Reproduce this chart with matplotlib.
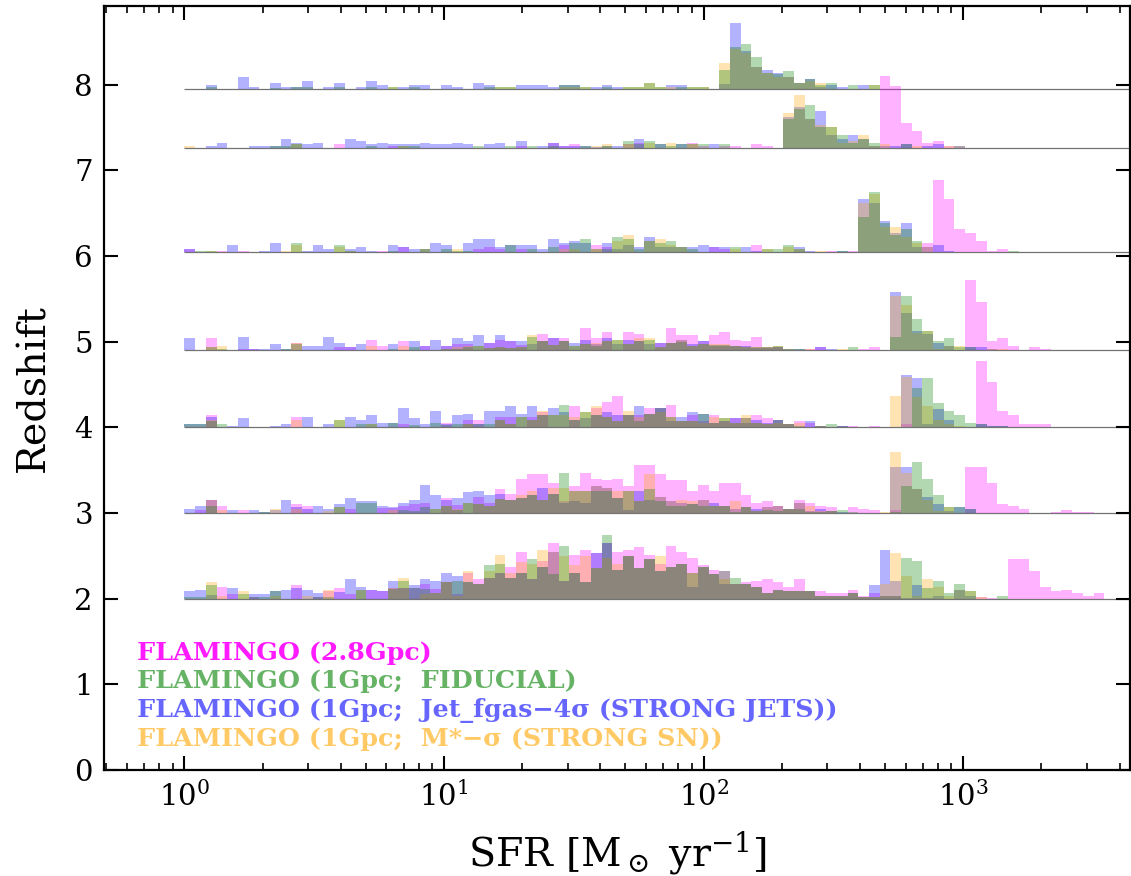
import numpy as np
import matplotlib
matplotlib.use("Agg")
import matplotlib.pyplot as plt
from matplotlib.patches import Patch

# ---------------- data ----------------
# ridge redshifts (bottom to top)
REDSHIFTS = [2.0, 3.0, 4.0, 4.9, 6.05, 7.26, 7.95]
# log-spaced SFR bins (dex width) starting at 1 Msun/yr
BIN_DEX = 0.0412
N_BINS = 90
LABELS = ["FLAMINGO (2.8Gpc)",
          "FLAMINGO (1Gpc;  FIDUCIAL)",
          "FLAMINGO (1Gpc;  Jet_fgas\u22124\u03c3 (STRONG JETS))",
          "FLAMINGO (1Gpc;  M*\u2212\u03c3 (STRONG SN))"]

# relative bin heights per ridge: {bin index: value}
z795_pink = {}
z795_green = {2: 2, 8: 1, 10: 2, 11: 2, 14: 2, 17: 2, 19: 2, 21: 2, 28: 2, 29: 2, 30: 2, 35: 4, 36: 4, 37: 2,
              39: 2, 41: 2, 42: 2, 43: 6, 44: 2, 46: 2, 47: 2, 48: 2, 50: 19, 51: 42, 52: 45, 53: 32, 54: 16,
              55: 15, 56: 18, 57: 6, 58: 10, 59: 4, 60: 6, 62: 4, 64: 4}
z795_blue = {2: 4, 5: 12, 6: 2, 8: 6, 9: 2, 10: 2, 11: 8, 13: 2, 14: 6, 16: 2, 17: 8, 18: 4, 20: 2, 21: 4, 22: 4,
             24: 4, 25: 2, 27: 6, 28: 4, 31: 4, 32: 4, 33: 4, 34: 2, 35: 4, 36: 4, 38: 2, 39: 4, 40: 2, 45: 4,
             46: 4, 50: 5, 51: 66, 52: 38, 53: 22, 54: 19, 55: 16, 56: 12, 57: 6, 58: 10, 59: 2, 60: 4, 61: 2, 63: 4}
z795_orange = {19: 2, 29: 2, 30: 2, 35: 2, 36: 2, 37: 2, 41: 2, 42: 2, 43: 6, 44: 2, 45: 2, 47: 2, 48: 2,
               50: 26, 51: 40, 52: 36, 53: 22, 54: 16, 55: 12, 56: 12, 57: 6, 58: 8, 59: 6, 64: 4}

z726_pink = {14: 4, 19: 2, 31: 2, 34: 5, 35: 2, 36: 4, 41: 4, 42: 5, 47: 5, 48: 2, 50: 2, 51: 2, 53: 4, 54: 2,
             65: 72, 66: 62, 67: 25, 68: 17, 69: 5, 70: 7, 71: 2, 72: 2}
z726_green = {8: 2, 9: 2, 10: 4, 17: 2, 20: 2, 21: 2, 27: 2, 30: 2, 32: 2, 34: 2, 37: 2, 39: 2, 41: 7, 42: 4,
              43: 7, 44: 4, 45: 2, 46: 4, 47: 4, 48: 4, 50: 4, 56: 29, 57: 39, 58: 43, 59: 21, 60: 21, 61: 13,
              62: 5, 63: 9, 64: 5, 67: 4, 72: 2}
z726_blue = {2: 2, 3: 5, 6: 2, 7: 2, 8: 2, 9: 9, 10: 5, 11: 4, 12: 5, 15: 9, 16: 7, 17: 4, 18: 5, 19: 4, 20: 4,
             21: 4, 22: 5, 23: 4, 24: 4, 25: 5, 26: 4, 28: 4, 29: 5, 31: 7, 33: 2, 34: 5, 35: 2, 36: 2, 37: 2,
             38: 1, 39: 2, 40: 2, 42: 9, 44: 4, 46: 4, 49: 4, 56: 31, 57: 41, 58: 29, 59: 37, 60: 13, 61: 9,
             62: 13, 63: 9, 64: 2, 65: 2, 66: 2, 67: 4, 69: 2, 70: 4}
z726_orange = {0: 2, 10: 4, 20: 2, 38: 2, 39: 4, 41: 4, 43: 5, 45: 5, 47: 4, 56: 35, 57: 53, 58: 29, 59: 23,
               60: 21, 61: 5, 62: 7, 63: 13, 64: 2, 65: 4, 68: 2, 71: 2}

z605_pink = {0: 3, 3: 1, 5: 1, 18: 1, 20: 5, 27: 3, 28: 5, 29: 3, 31: 3, 35: 7, 38: 7, 39: 5, 49: 5, 50: 3,
             53: 7, 60: 1, 62: 1, 69: 9, 70: 72, 71: 53, 72: 23, 73: 19, 74: 11, 75: 1, 76: 3}
z605_green = {1: 1, 2: 1, 10: 9, 14: 7, 15: 1, 19: 1, 22: 3, 24: 3, 25: 1, 26: 1, 30: 7, 32: 3, 34: 5, 36: 9,
              37: 13, 38: 3, 39: 3, 40: 15, 41: 13, 42: 3, 43: 11, 44: 9, 45: 11, 46: 5, 47: 3, 51: 5, 54: 3,
              55: 3, 56: 7, 57: 3, 61: 1, 63: 35, 64: 60, 65: 29, 66: 17, 67: 23, 68: 11, 77: 1}
z605_blue = {0: 3, 4: 7, 7: 1, 8: 9, 11: 1, 12: 7, 13: 3, 15: 3, 16: 5, 17: 1, 19: 7, 20: 5, 21: 3, 22: 3,
             23: 9, 24: 7, 26: 9, 27: 13, 28: 13, 29: 5, 30: 7, 31: 7, 32: 7, 33: 3, 34: 13, 35: 9, 36: 11,
             37: 9, 39: 9, 40: 3, 41: 7, 42: 5, 43: 15, 44: 5, 45: 5, 46: 5, 47: 5, 48: 7, 49: 5, 50: 5, 52: 5,
             53: 1, 57: 5, 58: 1, 61: 1, 63: 53, 64: 49, 65: 31, 66: 19, 67: 29, 68: 5, 69: 5, 70: 7, 71: 1}
z605_orange = {2: 1, 9: 1, 10: 7, 14: 5, 15: 1, 22: 3, 25: 3, 35: 3, 36: 3, 38: 3, 40: 11, 41: 17, 43: 11,
               44: 13, 45: 7, 46: 5, 51: 3, 54: 3, 56: 5, 57: 3, 59: 1, 63: 49, 64: 58, 65: 25, 66: 25, 67: 15,
               68: 9, 69: 5}

z49_pink = {2: 12, 5: 1, 6: 1, 10: 7, 14: 3, 15: 3, 17: 10, 18: 4, 20: 9, 22: 4, 24: 4, 25: 6, 26: 6, 28: 7,
            29: 10, 30: 9, 31: 5, 33: 16, 34: 12, 35: 12, 37: 22, 38: 12, 39: 18, 41: 18, 42: 16, 44: 7,
            45: 22, 46: 15, 47: 15, 48: 9, 49: 15, 50: 18, 51: 10, 52: 9, 53: 13, 54: 3, 55: 3, 58: 1, 59: 3,
            63: 1, 64: 3, 73: 70, 74: 48, 75: 9, 76: 12, 77: 4, 79: 3, 80: 1}
z49_green = {2: 3, 3: 1, 9: 1, 10: 6, 19: 1, 21: 3, 24: 1, 25: 1, 26: 3, 27: 4, 28: 2, 29: 3, 30: 2, 31: 3,
             32: 13, 33: 9, 34: 5, 35: 9, 36: 4, 37: 6, 38: 4, 39: 9, 40: 10, 41: 6, 42: 9, 43: 10, 44: 3,
             45: 7, 46: 8, 47: 4, 48: 6, 49: 5, 50: 5, 51: 4, 52: 3, 53: 3, 54: 3, 55: 4, 56: 1, 57: 1, 62: 3,
             66: 13, 67: 54, 68: 31, 69: 19, 70: 9, 71: 12, 72: 3, 73: 3}
z49_blue = {0: 12, 5: 13, 6: 1, 7: 1, 8: 6, 9: 1, 11: 4, 12: 4, 13: 13, 14: 7, 15: 3, 16: 6, 19: 6, 21: 9,
            22: 4, 23: 10, 24: 4, 25: 12, 26: 9, 27: 15, 28: 7, 29: 15, 30: 9, 31: 9, 32: 6, 33: 9, 34: 12,
            35: 9, 36: 7, 37: 10, 38: 6, 39: 12, 40: 6, 41: 10, 42: 9, 43: 6, 44: 7, 45: 7, 46: 10, 47: 6,
            48: 9, 49: 4, 50: 4, 51: 4, 52: 4, 53: 2, 54: 2, 55: 3, 56: 1, 57: 1, 59: 3, 60: 1, 66: 58, 67: 37,
            68: 19, 69: 16, 70: 7, 71: 4, 73: 3, 74: 3, 75: 1}
z49_orange = {2: 3, 3: 4, 10: 7, 17: 4, 20: 4, 24: 1, 25: 3, 26: 4, 27: 4, 28: 2, 29: 3, 30: 2, 31: 3, 32: 15,
              33: 9, 34: 5, 35: 9, 36: 4, 37: 6, 38: 7, 39: 9, 40: 10, 41: 6, 42: 12, 43: 12, 44: 3, 45: 7,
              46: 10, 47: 4, 48: 6, 49: 6, 50: 6, 51: 4, 52: 3, 53: 3, 54: 3, 55: 4, 56: 1, 58: 1, 61: 1,
              66: 54, 67: 45, 68: 17, 69: 19, 70: 1, 71: 4, 72: 4, 75: 1, 76: 1}

z4_pink = {2: 12, 10: 10, 20: 3, 24: 4, 26: 7, 27: 7, 29: 10, 30: 10, 32: 10, 33: 15, 36: 21, 38: 19, 39: 25,
           40: 31, 41: 12, 42: 12, 43: 19, 44: 19, 45: 22, 46: 6, 47: 12, 48: 6, 49: 12, 50: 6, 51: 9, 52: 9,
           53: 12, 54: 9, 55: 7, 56: 3, 57: 6, 58: 4, 59: 1, 61: 1, 62: 1, 64: 1, 67: 3, 74: 66, 75: 45,
           76: 16, 77: 12, 78: 3, 79: 3, 80: 3}
z4_green = {0: 3, 1: 3, 2: 6, 3: 3, 14: 7, 16: 3, 17: 3, 19: 4, 21: 2, 23: 4, 24: 2, 25: 3, 26: 3, 27: 3,
            28: 3, 29: 7, 30: 3, 31: 10, 32: 7, 33: 12, 34: 12, 35: 22, 36: 7, 37: 15, 38: 12, 39: 10, 40: 6,
            41: 12, 42: 6, 43: 13, 44: 19, 45: 10, 46: 6, 47: 6, 48: 13, 49: 4, 50: 9, 51: 4, 52: 9, 53: 4,
            54: 3, 55: 7, 56: 3, 57: 1, 59: 1, 60: 3, 61: 1, 68: 39, 69: 49, 70: 24, 71: 16, 72: 12, 73: 4,
            74: 3, 75: 1, 76: 1}
z4_blue = {0: 3, 1: 3, 2: 10, 4: 1, 5: 9, 8: 1, 9: 3, 11: 10, 13: 3, 15: 10, 16: 7, 17: 12, 18: 4, 19: 4,
           20: 19, 21: 9, 22: 3, 23: 16, 24: 3, 25: 12, 26: 13, 27: 3, 28: 16, 29: 16, 30: 21, 31: 13, 32: 21,
           33: 12, 34: 19, 35: 15, 36: 7, 37: 9, 38: 12, 39: 15, 40: 12, 41: 12, 42: 21, 43: 13, 44: 19,
           45: 6, 46: 10, 47: 15, 48: 13, 49: 4, 50: 6, 51: 9, 52: 4, 53: 7, 54: 4, 55: 7, 56: 3, 58: 6,
           59: 1, 61: 1, 67: 52, 68: 49, 69: 3, 70: 18, 71: 7, 74: 3, 75: 1, 76: 1}
z4_orange = {2: 7, 10: 7, 14: 7, 17: 3, 26: 3, 29: 7, 30: 3, 31: 10, 32: 7, 33: 16, 34: 12, 35: 12, 36: 10,
             37: 15, 38: 21, 39: 10, 40: 6, 41: 16, 42: 10, 43: 13, 44: 15, 45: 10, 46: 6, 47: 6, 48: 4,
             49: 10, 50: 9, 51: 4, 52: 12, 53: 4, 54: 3, 55: 4, 56: 3, 57: 4, 59: 1, 66: 31, 67: 50, 68: 30,
             69: 21, 70: 7, 71: 3, 72: 1}

z3_pink = {1: 3, 2: 13, 3: 7, 5: 3, 10: 9, 11: 7, 15: 4, 18: 5, 19: 5, 20: 7, 21: 9, 22: 10, 24: 15, 25: 8,
           27: 16, 28: 10, 29: 24, 30: 19, 31: 34, 32: 39, 33: 39, 34: 30, 35: 12, 36: 27, 37: 40, 38: 34,
           39: 33, 40: 34, 41: 27, 42: 48, 43: 48, 44: 39, 45: 33, 46: 33, 47: 22, 48: 28, 49: 22, 50: 30,
           51: 30, 52: 18, 53: 10, 54: 12, 55: 7, 56: 4, 57: 13, 58: 10, 59: 7, 60: 6, 62: 6, 63: 4, 64: 3,
           66: 3, 73: 46, 74: 46, 75: 30, 76: 9, 77: 7, 78: 4, 81: 1, 82: 3, 83: 1, 84: 1}
z3_green = {2: 7, 7: 1, 14: 6, 16: 10, 17: 10, 20: 3, 21: 2, 22: 6, 23: 4, 24: 7, 25: 3, 26: 10, 27: 9,
            28: 7, 29: 14, 30: 13, 31: 15, 32: 18, 33: 13, 34: 19, 35: 40, 36: 22, 37: 22, 38: 22, 39: 22,
            40: 15, 41: 22, 42: 12, 43: 24, 44: 12, 45: 7, 46: 7, 47: 9, 48: 7, 49: 7, 50: 7, 51: 1, 52: 6,
            53: 2, 54: 3, 55: 2, 56: 4, 57: 4, 58: 1, 59: 1, 60: 2, 61: 3, 62: 1, 66: 1, 67: 27, 68: 51,
            69: 34, 70: 18, 71: 6, 72: 6, 73: 4}
z3_blue = {0: 4, 1: 7, 2: 13, 4: 3, 6: 3, 7: 1, 8: 3, 9: 13, 10: 6, 11: 4, 12: 7, 13: 4, 14: 9, 15: 15,
           16: 12, 17: 12, 18: 7, 19: 6, 20: 10, 21: 13, 22: 28, 23: 18, 24: 13, 25: 15, 26: 21, 27: 22,
           28: 18, 29: 19, 30: 13, 31: 15, 32: 18, 33: 25, 34: 19, 35: 10, 36: 12, 37: 10, 38: 27, 39: 25,
           40: 15, 41: 3, 42: 22, 43: 13, 44: 16, 45: 12, 46: 10, 47: 9, 48: 13, 49: 10, 50: 7, 51: 4, 52: 6,
           53: 4, 54: 6, 55: 7, 56: 4, 57: 10, 58: 2, 59: 4, 60: 2, 61: 1, 66: 46, 67: 46, 68: 24, 69: 16,
           70: 9, 71: 2, 72: 6, 73: 4}
z3_orange = {2: 13, 3: 3, 8: 4, 10: 4, 13: 2, 14: 6, 19: 3, 23: 4, 24: 7, 25: 4, 26: 10, 27: 9, 28: 7,
             29: 14, 30: 13, 31: 18, 32: 22, 33: 13, 34: 25, 35: 25, 36: 22, 37: 22, 38: 27, 39: 25, 40: 22,
             41: 22, 42: 12, 43: 39, 44: 16, 45: 12, 46: 13, 47: 12, 48: 13, 49: 7, 50: 7, 51: 12, 52: 6,
             53: 2, 54: 6, 55: 7, 56: 4, 57: 10, 58: 7, 59: 2, 60: 2, 65: 1, 66: 61, 67: 40, 68: 24, 69: 13,
             70: 2, 71: 6}

z2_pink = {3: 12, 4: 5, 6: 2, 10: 14, 12: 2, 13: 8, 14: 11, 15: 5, 17: 9, 18: 8, 19: 11, 20: 11, 21: 11,
           22: 15, 23: 10, 24: 17, 25: 5, 26: 26, 27: 20, 28: 21, 29: 26, 30: 32, 31: 47, 32: 20, 33: 38,
           34: 56, 35: 18, 36: 44, 37: 49, 38: 46, 39: 56, 40: 47, 41: 49, 42: 52, 43: 44, 44: 35, 45: 53,
           46: 47, 47: 41, 48: 34, 49: 29, 50: 28, 51: 15, 52: 17, 53: 18, 54: 20, 55: 17, 56: 12, 57: 20,
           58: 8, 59: 8, 60: 6, 61: 6, 62: 9, 63: 3, 64: 6, 65: 3, 66: 3, 74: 2, 75: 1, 77: 40, 78: 40,
           79: 28, 80: 12, 81: 8, 82: 9, 83: 6, 84: 3, 85: 6}
z2_green = {0: 2, 1: 2, 2: 14, 5: 5, 6: 2, 7: 2, 8: 8, 12: 2, 13: 2, 16: 9, 19: 10, 20: 18, 21: 11, 22: 10,
            23: 6, 24: 17, 25: 18, 26: 17, 27: 15, 28: 34, 29: 35, 30: 21, 31: 26, 32: 40, 33: 32, 34: 25,
            35: 53, 36: 26, 37: 17, 38: 31, 39: 64, 40: 29, 41: 43, 42: 31, 43: 40, 44: 28, 45: 32, 46: 35,
            47: 26, 48: 32, 49: 25, 50: 28, 51: 21, 52: 15, 53: 12, 54: 6, 55: 9, 56: 8, 57: 8, 58: 8, 59: 3,
            60: 3, 61: 3, 62: 6, 63: 2, 64: 2, 65: 3, 66: 3, 67: 41, 68: 38, 69: 11, 70: 18, 71: 6, 72: 15,
            73: 8, 76: 3}
z2_blue = {0: 8, 1: 9, 2: 4, 4: 11, 6: 5, 7: 5, 8: 8, 9: 9, 10: 11, 11: 9, 12: 6, 14: 7, 15: 20, 16: 12,
           17: 9, 18: 8, 19: 18, 20: 11, 21: 14, 22: 20, 23: 18, 24: 26, 25: 23, 26: 17, 27: 15, 28: 21,
           29: 26, 30: 21, 31: 26, 32: 20, 33: 32, 34: 47, 35: 18, 36: 26, 37: 17, 38: 46, 39: 56, 40: 29,
           41: 43, 42: 31, 43: 40, 44: 28, 45: 32, 46: 35, 47: 12, 48: 32, 49: 25, 50: 15, 51: 15, 52: 15,
           53: 12, 54: 6, 55: 9, 56: 8, 57: 8, 58: 8, 59: 3, 60: 3, 61: 3, 62: 6, 63: 2, 64: 14, 65: 49,
           66: 18, 67: 1, 68: 14, 69: 1, 70: 3, 72: 9, 73: 3}
z2_orange = {2: 17, 3: 3, 5: 8, 8: 3, 11: 3, 13: 9, 16: 9, 19: 11, 20: 21, 22: 5, 23: 6, 24: 17, 25: 3,
             26: 28, 27: 15, 28: 28, 29: 44, 30: 26, 31: 37, 32: 35, 33: 49, 34: 47, 35: 43, 36: 34, 37: 43,
             38: 31, 39: 41, 40: 35, 41: 43, 42: 31, 43: 40, 44: 43, 45: 32, 46: 35, 47: 26, 48: 32, 49: 25,
             50: 20, 51: 15, 52: 15, 53: 12, 54: 6, 55: 9, 56: 8, 57: 8, 58: 8, 59: 3, 60: 3, 61: 3, 62: 6,
             63: 2, 64: 2, 65: 15, 66: 46, 67: 23, 68: 3, 69: 20, 70: 12, 71: 3, 72: 9, 73: 8, 74: 2}

# series order per ridge: pink (2.8Gpc), green (fiducial), blue (strong jets), orange (strong SN)
RIDGES = [
    [z2_pink, z2_green, z2_blue, z2_orange],
    [z3_pink, z3_green, z3_blue, z3_orange],
    [z4_pink, z4_green, z4_blue, z4_orange],
    [z49_pink, z49_green, z49_blue, z49_orange],
    [z605_pink, z605_green, z605_blue, z605_orange],
    [z726_pink, z726_green, z726_blue, z726_orange],
    [z795_pink, z795_green, z795_blue, z795_orange],
]

# ---------------- style ----------------
BAR_COLORS = ["magenta", "green", "blue", "orange"]
DRAW_ORDER = [0, 2, 3, 1]  # pink, blue, orange, green (green on top)
TEXT_COLORS = ["#ff1aff", "#66b366", "#6666ff", "#ffc966"]
HEIGHT_SCALE = 1 / 85.6

plt.rcParams["font.family"] = ["DejaVu Serif"]
plt.rcParams["mathtext.fontset"] = "dejavuserif"

fig = plt.figure(figsize=(11.31, 8.76), dpi=100)
ax = fig.add_axes([104 / 1131, 106 / 876, 1026 / 1131, 764 / 876])

edges = 10 ** (np.arange(N_BINS + 1) * BIN_DEX)
lefts = edges[:-1]
widths = np.diff(edges)

for z, series in zip(REDSHIFTS, RIDGES):
    ax.hlines(z, edges[0], edges[-1], color="0.45", lw=0.9, zorder=1)
    for idx in DRAW_ORDER:
        counts = series[idx]
        h = np.zeros(N_BINS)
        for k, v in counts.items():
            h[k] = v
        ax.bar(lefts, h * HEIGHT_SCALE, width=widths, bottom=z, align="edge",
               color=BAR_COLORS[idx], alpha=0.3, linewidth=0, zorder=2)

ax.set_xscale("log")
ax.set_xlim(0.49, 4390)
ax.set_ylim(0, 8.92)
ax.set_yticks(range(0, 9))

ax.tick_params(axis="both", which="both", direction="in", top=True, right=True)
ax.tick_params(axis="both", which="major", length=10, width=1.5, labelsize=21, pad=8)
ax.tick_params(axis="x", which="minor", length=5, width=1.2)
for s in ax.spines.values():
    s.set_linewidth(1.6)

ax.set_xlabel("SFR [M$_\\odot$ yr$^{-1}$]", fontsize=28.5, labelpad=13)
ax.set_ylabel("Redshift", fontsize=28.5, labelpad=16)

handles = [Patch(facecolor="none", edgecolor="none") for _ in LABELS]
ax.legend(handles, LABELS, loc="lower left", bbox_to_anchor=(0.032, 0.025),
          frameon=False, handlelength=0, handletextpad=0, borderpad=0, borderaxespad=0,
          labelspacing=0.17, labelcolor=TEXT_COLORS,
          prop={"family": "DejaVu Serif", "weight": "bold", "size": 18.3})

fig.savefig("out.png", dpi=100)
